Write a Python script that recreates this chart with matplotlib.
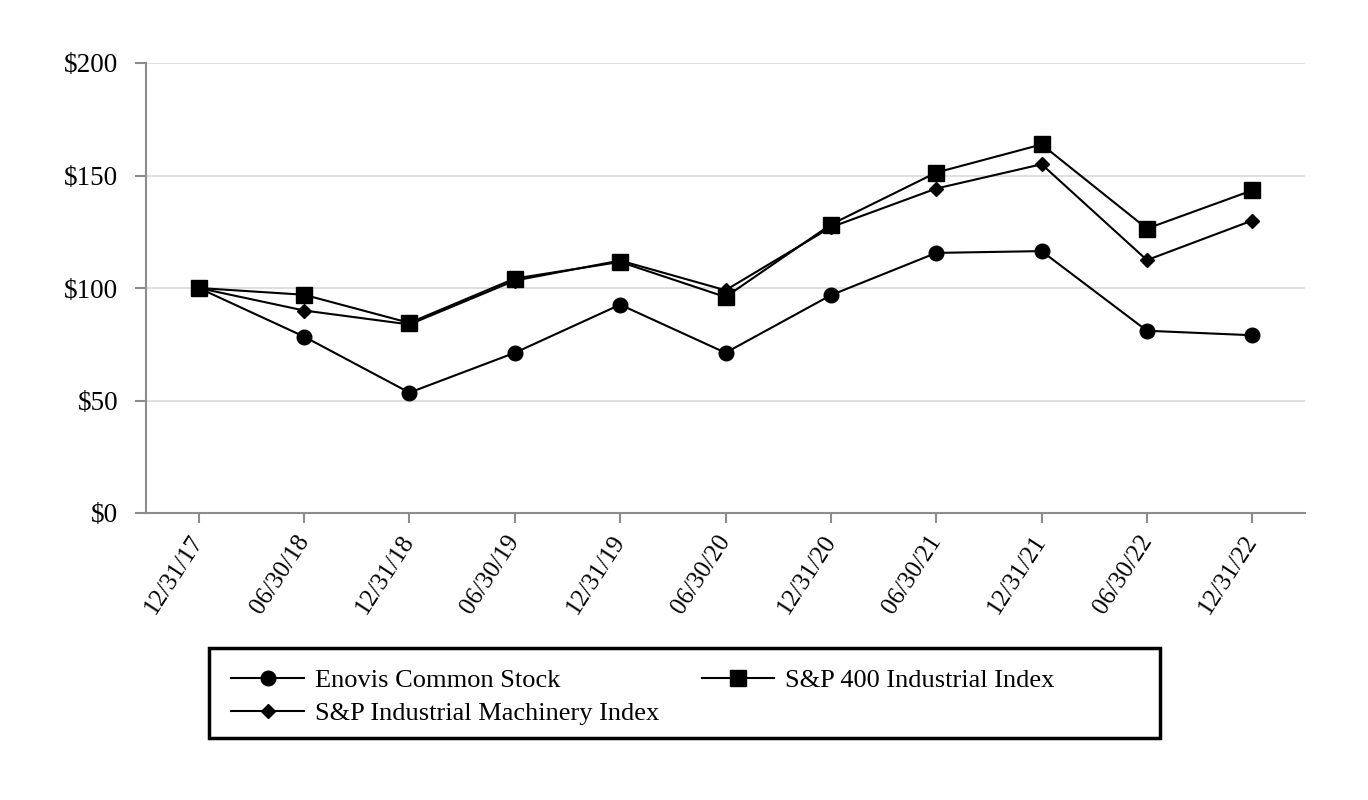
import matplotlib
matplotlib.use("Agg")
import matplotlib.pyplot as plt
from matplotlib.patches import Rectangle

dates = ["12/31/17", "06/30/18", "12/31/18", "06/30/19", "12/31/19", "06/30/20",
         "12/31/20", "06/30/21", "12/31/21", "06/30/22", "12/31/22"]
enovis = [100, 78.4, 53.5, 71.2, 92.6, 71.2, 96.8, 115.6, 116.4, 81.0, 79.0]
sp400 = [100, 97.0, 84.5, 104.2, 111.6, 96.0, 128.2, 151.3, 163.8, 126.4, 143.4]
machinery = [100, 90.0, 83.8, 103.3, 112.2, 99.0, 127.0, 144.2, 155.0, 112.4, 130.0]
yticks = [0, 50, 100, 150, 200]

plt.rcParams['font.family'] = ['Liberation Serif', 'DejaVu Serif']
FS = 19.5

fig = plt.figure(figsize=(13.68, 8), dpi=100)
ax = fig.add_axes([146/1368, 1-513/800, (1305-146)/1368, 450/800])

x = list(range(len(dates)))
lw = 1.5
l1, = ax.plot(x, enovis, color='black', lw=lw, marker='o', markersize=10.5, label='Enovis Common Stock', zorder=3)
l2, = ax.plot(x, sp400, color='black', lw=lw, marker='s', markersize=11.5, label='S&P 400 Industrial Index', zorder=3)
l3, = ax.plot(x, machinery, color='black', lw=lw, marker='D', markersize=7, label='S&P Industrial Machinery Index', zorder=3)

ax.set_xlim(-0.5, len(dates) - 0.5)
ax.set_ylim(0, 200)
ax.set_yticks(yticks)
ax.set_yticklabels([f"${v}" for v in yticks], fontsize=FS)
ax.set_xticks(x)
ax.set_xticklabels(dates, rotation=57, ha='right', va='center', rotation_mode='anchor', fontsize=18)
ax.grid(axis='y', color='#d9d9d9', lw=1.2, zorder=0)
ax.set_axisbelow(True)
for s in ['top', 'right']:
    ax.spines[s].set_visible(False)
for s in ['left', 'bottom']:
    ax.spines[s].set_color('#8c8c8c')
    ax.spines[s].set_linewidth(1.5)
ax.tick_params(axis='x', color='#8c8c8c', width=1.5, length=7.5, pad=10)
ax.tick_params(axis='y', color='#8c8c8c', width=1.5, length=8, pad=12)

fig.patches.append(Rectangle((209/1368, 1-738/800), (1160-209)/1368, 90/800,
                             transform=fig.transFigure, fill=False, edgecolor='black', lw=2.5))

fig.legend([l1, l3, l2], [l1.get_label(), l3.get_label(), l2.get_label()],
           loc='upper left', bbox_to_anchor=(213/1368, 1-650/800), ncol=2, frameon=False,
           fontsize=FS - 0.5, handlelength=2.75, handletextpad=0.4, columnspacing=1.63,
           labelspacing=0.37, borderpad=0.2)

fig.savefig('out.png', dpi=100)
